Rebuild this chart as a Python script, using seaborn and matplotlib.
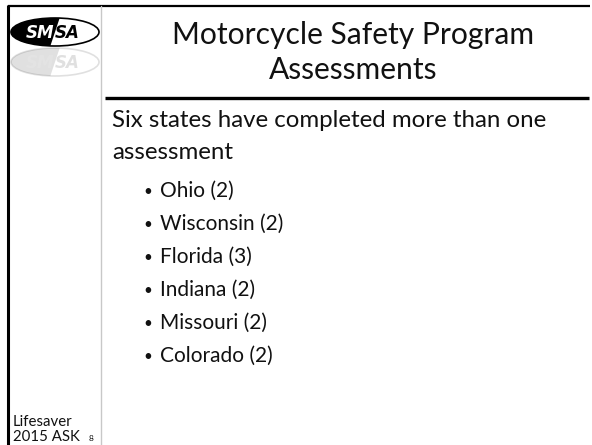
import matplotlib
matplotlib.use("Agg")
import matplotlib.pyplot as plt
import seaborn as sns
from matplotlib.patches import Ellipse, Polygon

sns.set_theme(style="white")
plt.rcParams['font.family'] = ['Lato', 'DejaVu Sans']

# slide content
title_lines = ["Motorcycle Safety Program", "Assessments"]
intro_lines = ["Six states have completed more than one", "assessment"]
states = ["Ohio", "Wisconsin", "Florida", "Indiana", "Missouri", "Colorado"]
counts = [2, 2, 3, 2, 2, 2]
footer_lines = ["Lifesaver", "2015 ASK"]
page_no = "8"

W, H = 592, 445
fig = plt.figure(figsize=(W / 100, H / 100), dpi=100)
ax = fig.add_axes([0, 0, 1, 1])
ax.set_xlim(0, W)
ax.set_ylim(H, 0)
ax.axis("off")

# frame lines
ax.plot([8, 8], [5, H], color="black", lw=2.2, solid_capstyle="butt")
ax.plot([8, 590], [6, 6], color="black", lw=1.6, solid_capstyle="butt")
ax.plot([101, 101], [6, H], color="#c8c8c8", lw=1.0)
ax.plot([105, 589], [98, 98], color="black", lw=2.4, solid_capstyle="butt")

# logo (rough) + faint reflection
for cy, a in [(32, 1.0), (62, 0.12)]:
    ell = Ellipse((55, cy), 88, 28, facecolor="white", edgecolor="black", lw=1.2, alpha=a)
    ax.add_patch(ell)
    half = Polygon([[10, cy - 15], [60, cy - 15], [50, cy + 15], [10, cy + 15]],
                   closed=True, facecolor="black", edgecolor="none", alpha=a)
    ax.add_patch(half)
    half.set_clip_path(ell)
    ax.text(54, cy + 1, "SM", ha="right", va="center", fontsize=12, fontweight="bold",
            style="italic", color="white", alpha=a, family="DejaVu Sans")
    ax.text(55, cy + 1, "SA", ha="left", va="center", fontsize=12, fontweight="bold",
            style="italic", color="black", alpha=a, family="DejaVu Sans")

# title
for i, line in enumerate(title_lines):
    ax.text(353, 44 + 35 * i, line, ha="center", va="baseline", fontsize=21.6, color="#111111")

# intro paragraph
for i, line in enumerate(intro_lines):
    ax.text(112, 127 + 32 * i, line, ha="left", va="baseline", fontsize=17.3, color="#111111")

# bullet list
for i, (s, c) in enumerate(zip(states, counts)):
    y = 197 + 33 * i
    ax.text(143, y - 1, "•", ha="left", va="baseline", fontsize=11, color="#111111")
    ax.text(160, y, f"{s} ({c})", ha="left", va="baseline", fontsize=15, color="#111111")

# footer
ax.text(13, 426, footer_lines[0], ha="left", va="baseline", fontsize=10.8, color="#111111")
ax.text(13, 441, footer_lines[1], ha="left", va="baseline", fontsize=10.8, color="#111111")
ax.text(89, 441, page_no, ha="left", va="baseline", fontsize=6, color="#111111")

fig.savefig("out.png", dpi=100, facecolor="white")
